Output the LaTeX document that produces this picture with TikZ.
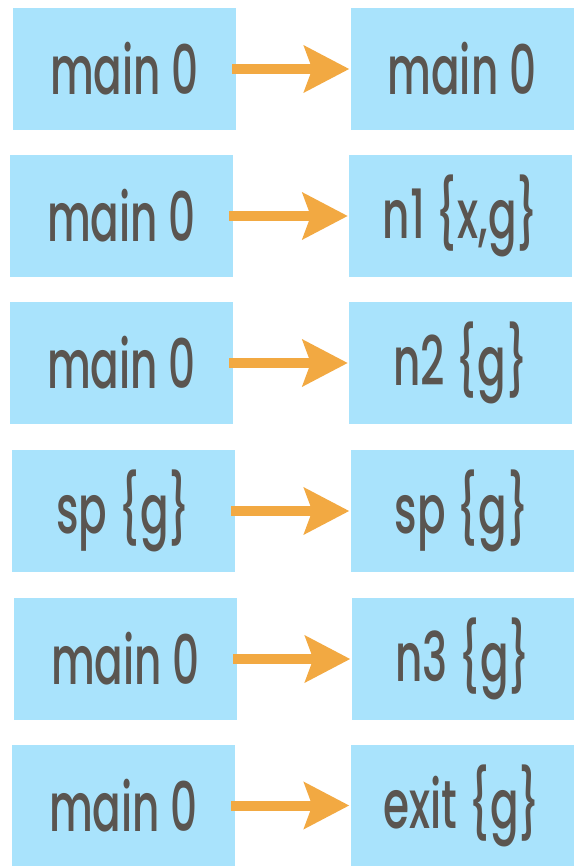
\documentclass[tikz,border=0pt]{standalone}
\usepackage{fontspec}
\setmainfont[FakeStretch=0.62, UprightFont={* Medium}]{Poppins}
\usepackage{tikz}
\usetikzlibrary{arrows.meta}
\definecolor{boxblue}{RGB}{169,227,252}
\definecolor{txtgray}{RGB}{90,85,80}
\definecolor{flowora}{RGB}{242,169,66}
\tikzset{cellbox/.style={fill=boxblue, text=txtgray, minimum width=223pt,
  minimum height=122pt, inner sep=0pt, font=\fontsize{68}{70}\selectfont}}
\tikzset{flow/.style={draw=flowora, line width=10pt,
  -{Stealth[length=45pt, width=46pt, inset=8pt, fill=flowora]}}}

\begin{document}
\begin{tikzpicture}[x=1pt, y=-1pt]
  \useasboundingbox (0,0) rectangle (573,866);
  % before -> after, one row per step.
  \node[cellbox] (l1) at (124.5,69) {main 0};
  \node[cellbox] (r1) at (462,69) {main 0};
  \draw[flow] ([xshift=-4pt]l1.east) -- ([xshift=-1pt]r1.west);
  \node[cellbox] (l2) at (121.5,216) {main 0};
  \node[cellbox] (r2) at (460.5,216) {n1 \{x,g\}};
  \draw[flow] ([xshift=-4pt]l2.east) -- ([xshift=-1pt]r2.west);
  \node[cellbox] (l3) at (121.5,363) {main 0};
  \node[cellbox] (r3) at (460.5,363) {n2 \{g\}};
  \draw[flow] ([xshift=-4pt]l3.east) -- ([xshift=-1pt]r3.west);
  \node[cellbox] (l4) at (123.5,511) {sp \{g\}};
  \node[cellbox] (r4) at (462,511) {sp \{g\}};
  \draw[flow] ([xshift=-4pt]l4.east) -- ([xshift=-1pt]r4.west);
  \node[cellbox] (l5) at (125.5,659) {main 0};
  \node[cellbox] (r5) at (463,659) {n3 \{g\}};
  \draw[flow] ([xshift=-4pt]l5.east) -- ([xshift=-1pt]r5.west);
  \node[cellbox] (l6) at (123.5,805.5) {main 0};
  \node[cellbox] (r6) at (462,805.5) {exit \{g\}};
  \draw[flow] ([xshift=-4pt]l6.east) -- ([xshift=-1pt]r6.west);
\end{tikzpicture}
\end{document}
